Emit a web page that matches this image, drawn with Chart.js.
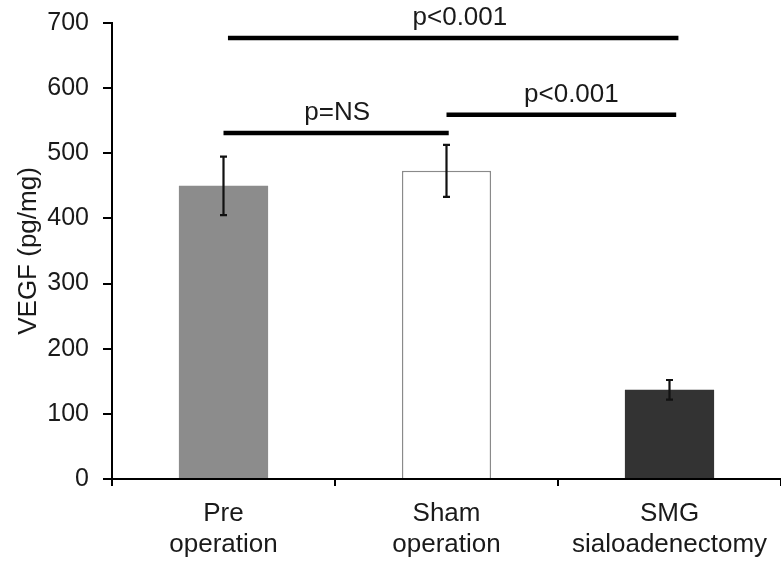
<!DOCTYPE html>
<html>
<head>
<meta charset="utf-8">
<script src="https://cdn.jsdelivr.net/npm/chart.js@4.4.0/dist/chart.umd.min.js"></script>
<style>
  html, body { margin: 0; padding: 0; background: #fff; }
  #wrap { width: 781px; height: 561px; }
</style>
</head>
<body>
<div id="wrap"><canvas id="chart" width="781" height="561"></canvas></div>
<script>
// Groups on the x axis
const categories = [['Pre', 'operation'], ['Sham', 'operation'], ['SMG', 'sialoadenectomy']];
// Mean VEGF per group and its error (pg/mg)
const vegfMean = [450, 473, 137];
const vegfError = [45, 40, 15];
// Significance brackets: start / end in category units, height in pg/mg, label
const sigFrom = [0.02, 0, 1];
const sigTo = [2.04, 1.01, 2.03];
const sigLevel = [677, 531, 559];
const sigText = ['p<0.001', 'p=NS', 'p<0.001'];
const sigLabelAt = [1.06, 0.51, 1.56];
// y axis
const yTicks = { min: 0, max: 700, step: 100 };

const FONT = "'Liberation Sans', Arial, sans-serif";

// Draws the error bars on top of each bar
const errorBars = {
  id: 'errorBars',
  afterDatasetsDraw(chart) {
    const { ctx } = chart;
    const y = chart.scales.y;
    const meta = chart.getDatasetMeta(0);
    ctx.save();
    ctx.strokeStyle = '#111';
    ctx.lineWidth = 2.2;
    meta.data.forEach((bar, i) => {
      const top = y.getPixelForValue(vegfMean[i] + vegfError[i]);
      const bottom = y.getPixelForValue(vegfMean[i] - vegfError[i]);
      ctx.beginPath();
      ctx.moveTo(bar.x, top);
      ctx.lineTo(bar.x, bottom);
      ctx.moveTo(bar.x - 3.5, top);
      ctx.lineTo(bar.x + 3.5, top);
      ctx.moveTo(bar.x - 3.5, bottom);
      ctx.lineTo(bar.x + 3.5, bottom);
      ctx.stroke();
    });
    ctx.restore();
  },
};

// Draws the p-value lines and their labels
const sigLines = {
  id: 'sigLines',
  afterDraw(chart) {
    const { ctx } = chart;
    const x = chart.scales.x;
    const y = chart.scales.y;
    const x0 = x.getPixelForValue(0);
    const step = x.getPixelForValue(1) - x0;
    ctx.save();
    ctx.strokeStyle = '#000';
    ctx.lineWidth = 4.5;
    ctx.fillStyle = '#1a1a1a';
    ctx.font = '26px ' + FONT;
    ctx.textAlign = 'center';
    ctx.textBaseline = 'alphabetic';
    sigLevel.forEach((level, i) => {
      const py = y.getPixelForValue(level);
      ctx.beginPath();
      ctx.moveTo(x0 + sigFrom[i] * step, py);
      ctx.lineTo(x0 + sigTo[i] * step, py);
      ctx.stroke();
      ctx.fillText(sigText[i], x0 + sigLabelAt[i] * step, py - 13);
    });
    ctx.restore();
  },
};

new Chart(document.getElementById('chart'), {
  type: 'bar',
  data: {
    labels: categories,
    datasets: [{
      data: vegfMean,
      backgroundColor: ['#8c8c8c', '#ffffff', '#333333'],
      borderColor: ['#8c8c8c', '#8a8a8a', '#333333'],
      borderWidth: [0, 1.5, 0],
      barPercentage: 0.4,
      categoryPercentage: 1,
    }],
  },
  options: {
    responsive: false,
    animation: false,
    layout: { padding: { top: 23, right: 0, left: 0, bottom: 0 } },
    plugins: {
      legend: { display: false },
      tooltip: { enabled: false },
    },
    scales: {
      x: {
        z: 1,
        afterFit(scale) { scale.height = 82; },
        border: { color: '#000', width: 2 },
        grid: {
          offset: true,
          drawOnChartArea: false,
          color: '#000',
          lineWidth: 2,
          tickLength: 7,
        },
        ticks: {
          color: '#1a1a1a',
          padding: 12,
          maxRotation: 0,
          font: { family: FONT, size: 26, lineHeight: 1.2 },
        },
      },
      y: {
        z: 1,
        min: yTicks.min,
        max: yTicks.max,
        afterFit(scale) {
          scale.width = 112;
          // the top label fits in the layout padding
          scale.paddingTop = 0;
          scale.paddingBottom = 0;
        },
        border: { color: '#000', width: 2 },
        grid: {
          drawOnChartArea: false,
          color: '#000',
          lineWidth: 2,
          tickLength: 9,
        },
        ticks: {
          stepSize: yTicks.step,
          color: '#1a1a1a',
          padding: 14,
          font: { family: FONT, size: 25 },
        },
        title: {
          display: true,
          text: 'VEGF (pg/mg)',
          color: '#1a1a1a',
          padding: { top: 13, bottom: 0 },
          font: { family: FONT, size: 26 },
        },
      },
    },
  },
  plugins: [errorBars, sigLines],
});
</script>
</body>
</html>
